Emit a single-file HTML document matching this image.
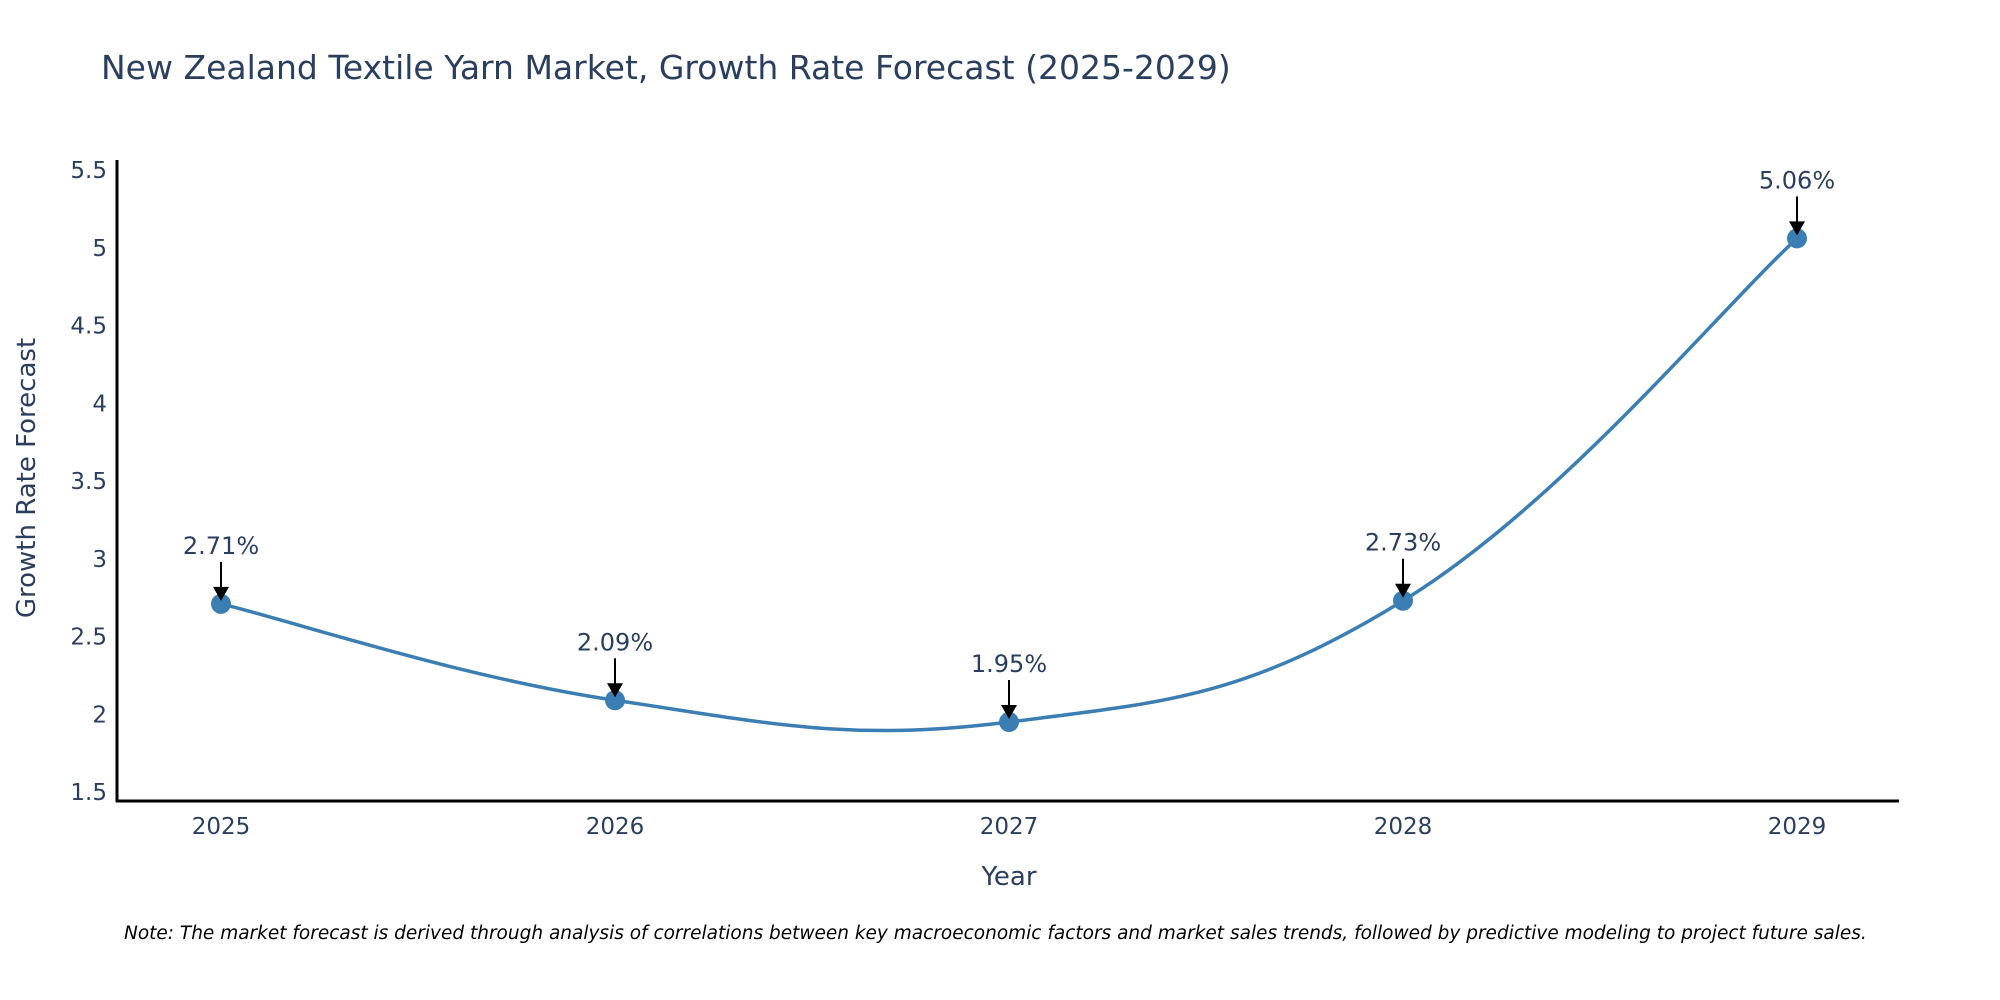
<!DOCTYPE html>
<html><head><meta charset="utf-8"><style>
body{margin:0;background:#fff;}
svg{display:block;font-family:"DejaVu Sans","Liberation Sans",sans-serif;}
</style></head><body>
<svg id="chart" width="2000" height="1000" viewBox="0 0 2000 1000">
<text x="101" y="79" font-size="33" fill="#2a3f5f">New Zealand Textile Yarn Market, Growth Rate Forecast (2025-2029)</text>
<g id="yticks"></g>
<g id="xticks"></g>
<line x1="117" y1="160" x2="117" y2="802" stroke="#000" stroke-width="3"/>
<line x1="116" y1="801" x2="1899" y2="801" stroke="#000" stroke-width="3"/>
<text x="1009" y="885" font-size="26" fill="#2a3f5f" text-anchor="middle">Year</text>
<text transform="translate(35,478) rotate(-90)" font-size="26" fill="#2a3f5f" text-anchor="middle">Growth Rate Forecast</text>
<path id="line" fill="none" stroke="#3b7eb3" stroke-width="3.5"/>
<g id="marks"></g>
<text x="124" y="939" font-size="18.5" font-style="italic" fill="#000">Note: The market forecast is derived through analysis of correlations between key macroeconomic factors and market sales trends, followed by predictive modeling to project future sales.</text>
</svg>
<script>
const categories = ["2025","2026","2027","2028","2029"];
const values = [2.71, 2.09, 1.95, 2.73, 5.06];
const labels = ["2.71%","2.09%","1.95%","2.73%","5.06%"];
const yTicks = [1.5,2,2.5,3,3.5,4,4.5,5,5.5];
const yTickLabels = ["1.5","2","2.5","3","3.5","4","4.5","5","5.5"];
const NS="http://www.w3.org/2000/svg";
const y0v=1.5,y1v=5.5,yTop=170,yBot=792;
function yScale(v){return yBot-(v-y0v)/(y1v-y0v)*(yBot-yTop);}
const xLeft=221,xStep=394;
function xScale(i){return xLeft+i*xStep;}
const yt=document.getElementById('yticks');
yTicks.forEach((v,i)=>{
 const t=document.createElementNS(NS,'text');
 
 
 t.setAttribute('x',107);t.setAttribute('y',yScale(v)+8);
 t.setAttribute('text-anchor','end');t.setAttribute('font-size','23');t.setAttribute('fill','#2a3f5f');
 t.textContent=yTickLabels[i];yt.appendChild(t);
});
const xt=document.getElementById('xticks');
categories.forEach((c,i)=>{
 const t=document.createElementNS(NS,'text');
 
 
 t.setAttribute('x',xScale(i));t.setAttribute('y',834);
 t.setAttribute('text-anchor','middle');t.setAttribute('font-size','23');t.setAttribute('fill','#2a3f5f');
 t.textContent=c;xt.appendChild(t);
});
const pts=values.map((v,i)=>[xScale(i),yScale(v)]);
let d=`M${pts[0][0]},${pts[0][1]}`;
const k=0.2;
for(let i=0;i<pts.length-1;i++){
 const p0=pts[Math.max(i-1,0)],p1=pts[i],p2=pts[i+1],p3=pts[Math.min(i+2,pts.length-1)];
 const c1=[p1[0]+(p2[0]-p0[0])*k,p1[1]+(p2[1]-p0[1])*k];
 const c2=[p2[0]-(p3[0]-p1[0])*k,p2[1]-(p3[1]-p1[1])*k];
 d+=` C${c1[0]},${c1[1]} ${c2[0]},${c2[1]} ${p2[0]},${p2[1]}`;
}
document.getElementById('line').setAttribute('d',d);
const mk=document.getElementById('marks');
pts.forEach((p,i)=>{
 const c=document.createElementNS(NS,'circle');
 
 
 c.setAttribute('cx',p[0]);c.setAttribute('cy',p[1]);c.setAttribute('r',10);c.setAttribute('fill','#3b7eb3');
 mk.appendChild(c);
 const a=document.createElementNS(NS,'line');
 
 
 a.setAttribute('x1',p[0]);a.setAttribute('y1',p[1]-42);a.setAttribute('x2',p[0]);a.setAttribute('y2',p[1]-14);
 a.setAttribute('stroke','#000');a.setAttribute('stroke-width','2');
 mk.appendChild(a);
 const h=document.createElementNS(NS,'polygon');
 
 
 h.setAttribute('points',`${p[0]-8},${p[1]-17} ${p[0]+8},${p[1]-17} ${p[0]},${p[1]-3}`);
 h.setAttribute('fill','#000');
 mk.appendChild(h);
 const t=document.createElementNS(NS,'text');
 
 
 t.setAttribute('x',p[0]);t.setAttribute('y',p[1]-50);
 t.setAttribute('text-anchor','middle');t.setAttribute('font-size','24');t.setAttribute('fill','#2a3f5f');
 t.textContent=labels[i];mk.appendChild(t);
});
</script>
</body></html>
